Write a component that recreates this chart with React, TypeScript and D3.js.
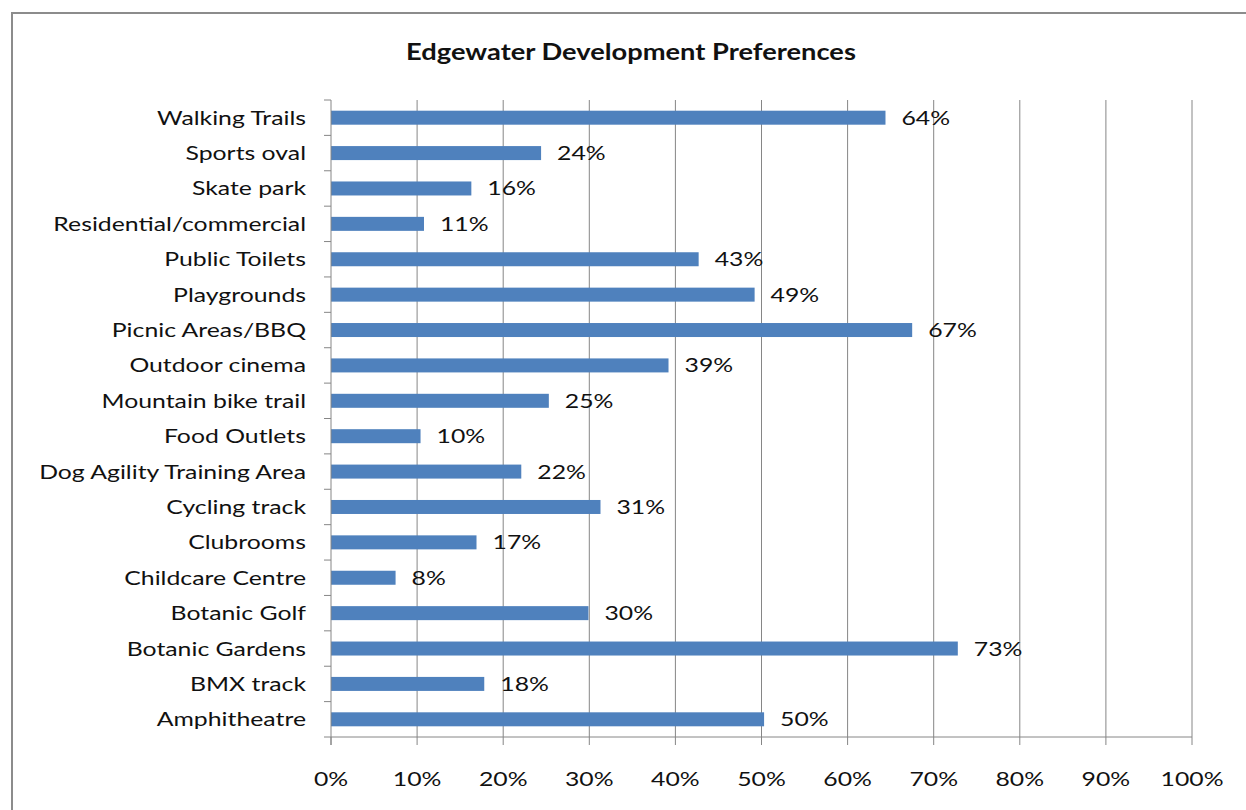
import * as d3 from "d3";

const categories = [
  "Walking Trails",
  "Sports oval",
  "Skate park",
  "Residential/commercial",
  "Public Toilets",
  "Playgrounds",
  "Picnic Areas/BBQ",
  "Outdoor cinema",
  "Mountain bike trail",
  "Food Outlets",
  "Dog Agility Training Area",
  "Cycling track",
  "Clubrooms",
  "Childcare Centre",
  "Botanic Golf",
  "Botanic Gardens",
  "BMX track",
  "Amphitheatre",
];

const values = [
  0.644, 0.244, 0.163, 0.108, 0.427, 0.492, 0.675, 0.392, 0.253, 0.104,
  0.221, 0.313, 0.169, 0.075, 0.299, 0.728, 0.178, 0.503,
];

const valueLabels = [
  "64%", "24%", "16%", "11%", "43%", "49%", "67%", "39%", "25%", "10%",
  "22%", "31%", "17%", "8%", "30%", "73%", "18%", "50%",
];

const xTicks = [0, 0.1, 0.2, 0.3, 0.4, 0.5, 0.6, 0.7, 0.8, 0.9, 1];

const W = 1246;
const H = 810;
const margin = { top: 100, right: 54, bottom: 73, left: 331 };
const font = "Lato, 'Open Sans', sans-serif";
const gridColor = "#868686";
const stretch = 1.24; // the source image is stretched horizontally

// text stretched horizontally around its anchor point
function Label(props: {
  x: number;
  y: number;
  anchor?: "start" | "middle" | "end";
  size: number;
  bold?: boolean;
  children: string;
}) {
  return (
    <g transform={`translate(${props.x},${props.y}) scale(${stretch},1)`}>
      <text
        textAnchor={props.anchor || "start"}
        fontFamily={font}
        fontSize={props.size}
        fontWeight={props.bold ? "bold" : "normal"}
        fill="#111"
      >
        {props.children}
      </text>
    </g>
  );
}

export default function App() {
  const x = d3
    .scaleLinear()
    .domain([0, 1])
    .range([margin.left, W - margin.right]);

  const y = d3
    .scaleBand<string>()
    .domain(categories)
    .range([margin.top, H - margin.bottom]);

  const barH = 14;
  const yBottom = H - margin.bottom;
  const edges = d3.range(categories.length + 1).map((i) => margin.top + i * y.step());
  const mid = (c: string) => (y(c) as number) + y.bandwidth() / 2;

  return (
    <svg
      width={W}
      height={H}
      style={{ position: "absolute", left: 0, top: 0, background: "#fff" }}
    >
      <rect x={12} y={13} width={W + 20} height={H + 20} fill="#fff" stroke="#8c8c8c" strokeWidth={2} />

      <Label x={631} y={60} anchor="middle" size={22} bold>
        Edgewater Development Preferences
      </Label>

      {/* gridlines */}
      {xTicks.slice(1).map((t) => (
        <line
          key={"g" + t}
          x1={x(t)}
          x2={x(t)}
          y1={margin.top}
          y2={yBottom}
          stroke={gridColor}
          strokeWidth={1}
        />
      ))}

      {/* bars */}
      {categories.map((c, i) => (
        <rect
          key={c}
          x={x(0)}
          y={mid(c) - barH / 2}
          width={x(values[i]) - x(0)}
          height={barH}
          fill="#4f81bd"
        />
      ))}

      {/* value labels */}
      {categories.map((c, i) => (
        <Label key={"v" + c} x={x(values[i]) + 16} y={mid(c) + 7} size={20}>
          {valueLabels[i]}
        </Label>
      ))}

      {/* category axis */}
      <line x1={x(0)} x2={x(0)} y1={margin.top} y2={yBottom + 8} stroke={gridColor} />
      {edges.map((e, i) => (
        <line key={"t" + i} x1={x(0) - 7} x2={x(0)} y1={e} y2={e} stroke={gridColor} />
      ))}
      {categories.map((c) => (
        <Label key={"c" + c} x={306} y={mid(c) + 7} anchor="end" size={20}>
          {c}
        </Label>
      ))}

      {/* value axis */}
      <line x1={x(0)} x2={x(1)} y1={yBottom} y2={yBottom} stroke={gridColor} />
      {xTicks.map((t) => (
        <g key={"x" + t}>
          <line x1={x(t)} x2={x(t)} y1={yBottom} y2={yBottom + 8} stroke={gridColor} />
          <Label x={x(t)} y={786} anchor="middle" size={20}>
            {d3.format(".0%")(t)}
          </Label>
        </g>
      ))}
    </svg>
  );
}
